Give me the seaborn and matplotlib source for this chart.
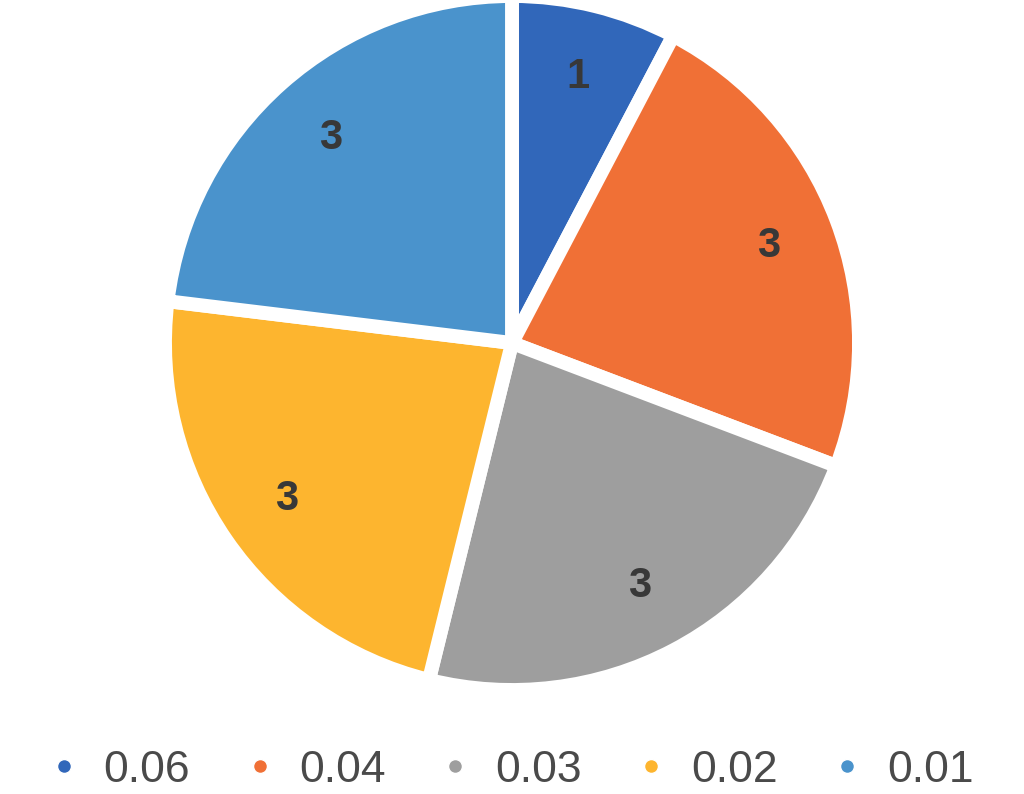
import matplotlib
matplotlib.use("Agg")
import matplotlib.pyplot as plt
from matplotlib.lines import Line2D
import seaborn as sns

categories = ["0.06", "0.04", "0.03", "0.02", "0.01"]
values = [1, 3, 3, 3, 3]
colors = ["#3167BA", "#F07036", "#9E9E9E", "#FDB52F", "#4A93CC"]

sns.set_theme(style="white")
plt.rcParams['font.family'] = ['Liberation Sans', 'DejaVu Sans']

fig = plt.figure(figsize=(10.24, 7.94), dpi=100)
r_px = 347
cx, cy = 512, 343
ax = fig.add_axes([(cx - r_px) / 1024, (794 - cy - r_px) / 794, 2 * r_px / 1024, 2 * r_px / 794])

wedges, texts = ax.pie(
    values,
    colors=colors,
    labels=[str(v) for v in values],
    labeldistance=0.79,
    startangle=90,
    counterclock=False,
    wedgeprops=dict(edgecolor="white", linewidth=10),
    textprops=dict(fontsize=30, fontweight="bold", color="#383838"),
    radius=1.0,
)
for t in texts:
    t.set_ha("center")
    t.set_va("center")
ax.set_xlim(-1, 1)
ax.set_ylim(-1, 1)
ax.set_aspect("equal")

handles = [Line2D([0], [0], marker="o", linestyle="none", markersize=10,
                  markerfacecolor=c, markeredgecolor="white", markeredgewidth=1)
           for c in colors]
leg = fig.legend(handles, categories, loc="center", bbox_to_anchor=(0.5, 24 / 794),
                 ncol=5, frameon=False, fontsize=32, handlelength=0.6,
                 handletextpad=0.6, columnspacing=1.26, borderaxespad=0)
for t in leg.get_texts():
    t.set_color("#4A4A4A")
    t.set_path_effects([])
    t.set_fontweight("normal")

fig.savefig("out.png", dpi=100, facecolor="white")
